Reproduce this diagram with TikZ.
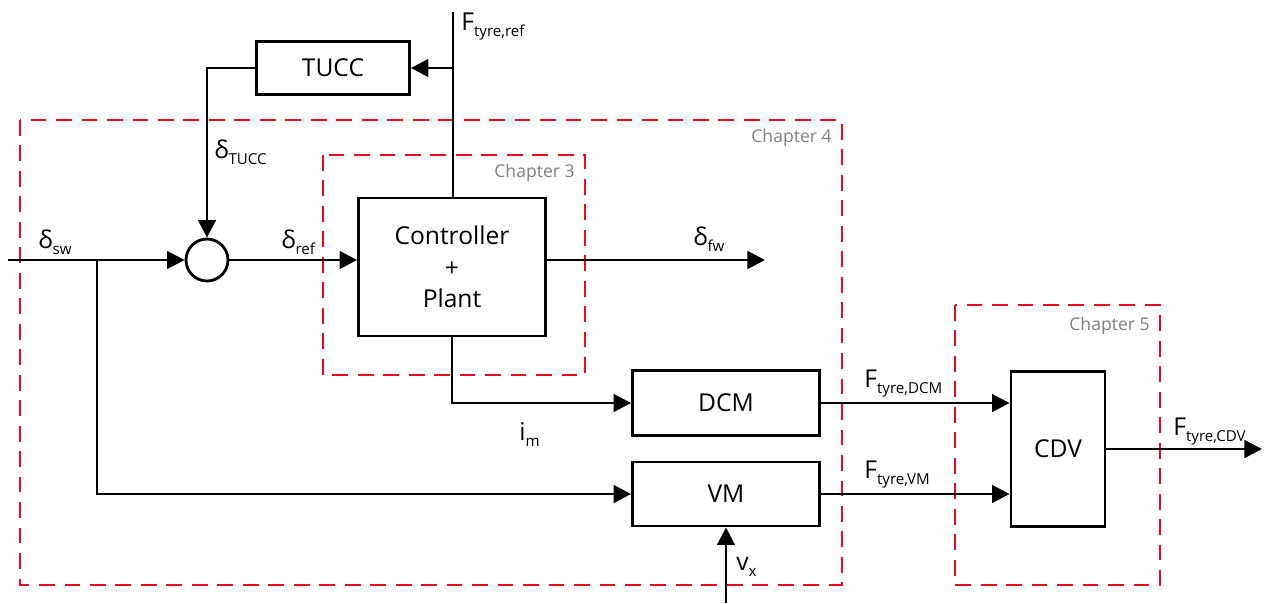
\documentclass[tikz,border=0pt]{standalone}
\usepackage{fontspec}
\setmainfont{Open Sans}
\usetikzlibrary{arrows.meta,positioning,calc}
\definecolor{chapred}{RGB}{235,10,30}
\definecolor{chapgrey}{RGB}{128,128,128}
\newcommand\lab[2]{{\fontsize{14}{16}\selectfont #1}\raisebox{-0.65ex}{\fontsize{8.6}{10}\selectfont #2}}
\tikzset{
  blk/.style={draw, line width=1.6pt, inner sep=0pt, font=\fontsize{14}{18}\selectfont, align=center},
  sumnode/.style={draw, circle, line width=1.6pt, minimum size=0.84cm, inner sep=0pt},
  conn/.style={line width=1.6pt},
  arr/.style={line width=1.6pt, -{Triangle[length=10pt,width=10pt]}},
  chapbox/.style={draw=chapred, line width=1.4pt, dash pattern=on 9pt off 5.5pt},
  chaplab/.style={text=chapgrey, font=\fontsize{10}{12}\selectfont, inner sep=0pt},
  sig/.style={inner sep=0pt, anchor=base west}
}
\begin{document}
\begin{tikzpicture}[x=0.02cm,y=-0.02cm]
\useasboundingbox (0,0) rectangle (1268,603);
% chapter boxes
\draw[chapbox] (20,120) rectangle (842,585);
\node[chaplab, anchor=east] (c4) at (832,138) {Chapter 4};
\draw[chapbox] (323,155) rectangle (585,375);
\node[chaplab, anchor=east] (c3) at (575,173) {Chapter 3};
\draw[chapbox] (955,305) rectangle (1160,585);
\node[chaplab, anchor=east] (c5) at (1150,326) {Chapter 5};
% blocks
\node[blk, minimum width=3.06cm, minimum height=1.06cm] (tucc) at (333,68) {TUCC};
\node[sumnode] (sum) at (207,260) {};
\node[blk, minimum width=3.74cm, minimum height=2.76cm] (ctrl) at (452,267) {Controller\\+\\Plant};
\node[blk, minimum width=3.74cm, minimum height=1.3cm] (dcm) at (726,403) {DCM};
\node[blk, minimum width=3.74cm, minimum height=1.28cm] (vm) at (726,494) {VM};
\node[blk, minimum width=1.88cm, minimum height=3.1cm] (cdv) at (1058,449) {CDV};
% free ends
\coordinate (fref) at (453,12);
\coordinate (in) at (8,260);
\coordinate (br) at (97,260);
\coordinate (fw) at (765,260);
\coordinate (vx) at (726,603);
\coordinate (out) at (1262,449);
% connectors
\draw[conn] (fref) -- (fref |- ctrl.north);
\draw[arr] (fref |- tucc.east) -- (tucc.east);
\draw[arr] (tucc.west) -| (sum.north);
\draw[arr] (in) -- (sum.west);
\draw[arr] (br) |- (vm.west);
\draw[arr] (sum.east) -- (sum.east -| ctrl.west);
\draw[arr] (ctrl.east |- sum.east) -- (fw);
\draw[arr] (ctrl.south) |- (dcm.west);
\draw[arr] (vx) -- (vm.south);
\draw[arr] (dcm.east) -- (dcm.east -| cdv.west);
\draw[arr] (vm.east) -- (vm.east -| cdv.west);
\draw[arr] (cdv.east) -- (out);
% signal labels
\node[sig] (lfref) at (461,30) {\lab{F}{tyre,ref}};
\node[sig] (ltucc) at (214,158) {\lab{δ}{TUCC}};
\node[sig] (lsw) at (38,248) {\lab{δ}{sw}};
\node[sig] (lref) at (281,248) {\lab{δ}{ref}};
\node[sig] (lfw) at (693,245) {\lab{δ}{fw}};
\node[sig] (lim) at (519,440) {\lab{i}{m}};
\node[sig] (lvx) at (736,570) {\lab{v}{x}};
\node[sig] (ldcm) at (864,387) {\lab{F}{tyre,DCM}};
\node[sig] (lvm) at (864,478) {\lab{F}{tyre,VM}};
\node[sig] (lcdv) at (1173,435) {\lab{F}{tyre,CDV}};
\end{tikzpicture}
\end{document}
